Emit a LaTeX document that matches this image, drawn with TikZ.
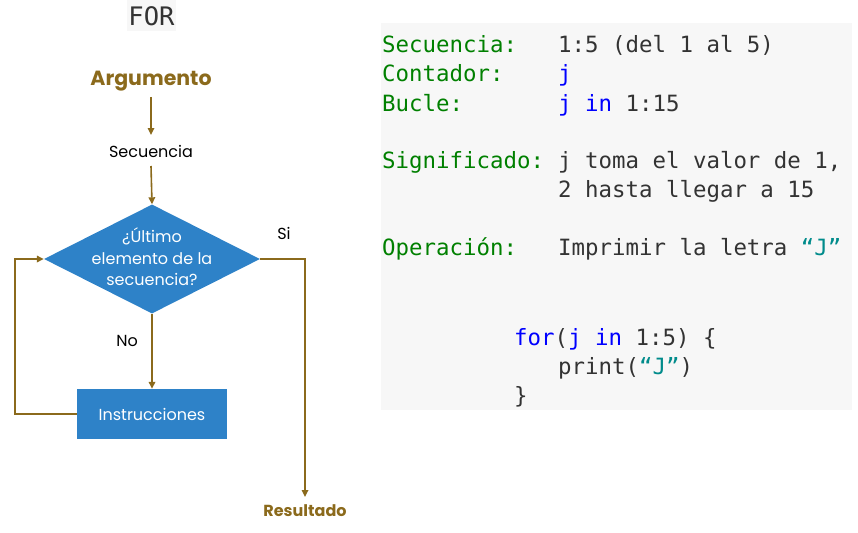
\documentclass[tikz,border=0pt]{standalone}
\usepackage{fontspec}
\setmainfont{Poppins}
\newfontfamily\codefont{DejaVu Sans Mono}
\usetikzlibrary{shapes.geometric,arrows.meta}
\definecolor{brn}{HTML}{8B6A1C}
\definecolor{boxblue}{HTML}{2E82C8}
\definecolor{cgreen}{HTML}{008000}
\definecolor{cblue}{HTML}{0000FF}
\definecolor{cteal}{HTML}{008B8B}
\definecolor{ctext}{HTML}{333333}
\definecolor{codebg}{HTML}{F7F7F7}
\tikzset{
  conn/.style={draw=brn, line width=1.6pt},
  arr/.style={conn, -{Triangle[length=7pt,width=6.5pt]}},
  title/.style={text=brn, font=\bfseries\fontsize{20.5}{22}\selectfont, inner sep=0pt},
  lbl/.style={text=black, font=\fontsize{16}{18}\selectfont, inner sep=0pt},
  code/.style={anchor=base west, inner sep=0pt, text=ctext, font=\codefont\fontsize{22.4}{26}\selectfont},
}
\begin{document}
\begin{tikzpicture}[x=1pt,y=-1pt]
\useasboundingbox (0,0) rectangle (858,532);
% FOR header
\fill[codebg] (127,0) rectangle (176,31);
\node[inner sep=0pt, text=ctext, font=\codefont\fontsize{25.5}{28}\selectfont] (for) at (151.5,16) {FOR};
% flowchart
\node[title] (arg) at (151,81) {Argumento};
\node[lbl] (sec) at (151,151) {Secuencia};
\node[shape=diamond, fill=boxblue, inner sep=0pt, minimum width=216pt, minimum height=109pt,
  label={[text=white, align=center, font=\fontsize{16}{21.5}\selectfont, yshift=2pt]center:¿Último\\elemento de la\\secuencia?}] (dec) at (152,259) {};
\node[fill=boxblue, minimum width=150pt, minimum height=50pt, inner sep=0pt, text=white, font=\fontsize{16}{18}\selectfont] (ins) at (152,414) {Instrucciones};
\node[title, font=\bfseries\fontsize{16}{18}\selectfont] (res) at (305,511) {Resultado};
\node[lbl] (si) at (284,233) {Si};
\node[lbl] (no) at (127,341) {No};
\coordinate (sicorner) at (305,259);
\coordinate (loopa) at (15,414);
\coordinate (loopb) at (15,259);
\draw[arr] ([yshift=-16pt]arg.center) -- ([yshift=16pt]sec.center);
\draw[arr] ([yshift=-15pt]sec.center) -- (dec.north);
\draw[arr] (dec.south) -- (ins.north);
\draw[arr] (dec.east) -- (sicorner) -- ([yshift=14pt]res.center);
\draw[arr] (ins.west) -- (loopa) -- (loopb) -- (dec.west);
% code panel
\fill[codebg] (381,23) rectangle (852,410);
\node[code, text=cgreen] (k1) at (382,53) {Secuencia:};
\node[code] (v1) at (558,53) {1:5 (del 1 al 5)};
\node[code, text=cgreen] (k2) at (382,82) {Contador:};
\node[code, text=cblue] (v2) at (558,82) {j};
\node[code, text=cgreen] (k3) at (382,111) {Bucle:};
\node[code] (v3) at (558,111) {\textcolor{cblue}{j in} 1:15};
\node[code, text=cgreen] (k4) at (382,168) {Significado:};
\node[code] (v4) at (558,168) {j toma el valor de 1,};
\node[code] (v4b) at (558,197) {2 hasta llegar a 15};
\node[code, text=cgreen] (k5) at (382,255) {Operación:};
\node[code] (v5) at (558,255) {Imprimir la letra \textcolor{cteal}{“J”}};
\node[code] (c1) at (514,345) {\textcolor{cblue}{for}(\textcolor{cblue}{j in} 1:5) \{};
\node[code] (c2) at (558,374) {print(\textcolor{cteal}{“J”})};
\node[code] (c3) at (514,403) {\}};
\end{tikzpicture}
\end{document}
